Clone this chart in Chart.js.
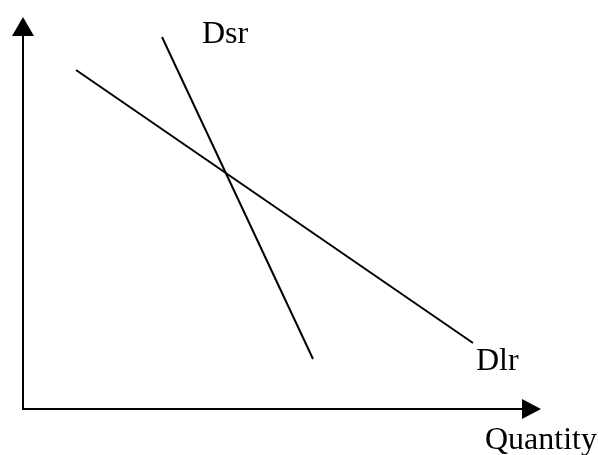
<!DOCTYPE html>
<html>
<head>
<meta charset="utf-8">
<script src="https://cdn.jsdelivr.net/npm/chart.js@4"></script>
<style>
    body { margin: 0; background: #ffffff; }
    #wrap { width: 598px; height: 455px; position: relative; }
</style>
</head>
<body>
<div id="wrap"><canvas id="canvasID"></canvas></div>
<script>
// values (origin at the corner of the axes)
let curveNames = ['Dsr', 'Dlr'];
let dsrQuantity = [139, 290];
let dsrPrice = [372, 50];
let dlrQuantity = [53, 450];
let dlrPrice = [339, 66];
let axisQuantity = [0, 0, 518];
let axisPrice = [392, 0, 0];
let axisTitle = 'Quantity';

function toPoints(xs, ys) {
    let points = [];
    for (let i = 0; i < xs.length; i++) {
        points.push({ x: xs[i], y: ys[i] });
    }
    return points;
}

// draws the two axes with arrow heads and the text labels
let axesPlugin = {
    id: 'axesPlugin',
    afterDatasetsDraw: function (chart) {
        let ctx = chart.ctx;
        let xs = chart.scales.x;
        let ys = chart.scales.y;
        let px = function (v) { return xs.getPixelForValue(v); };
        let py = function (v) { return ys.getPixelForValue(v); };

        let topX = px(axisQuantity[0]), topY = py(axisPrice[0]);
        let oX = px(axisQuantity[1]), oY = py(axisPrice[1]);
        let endX = px(axisQuantity[2]), endY = py(axisPrice[2]);

        ctx.save();
        ctx.strokeStyle = '#000000';
        ctx.fillStyle = '#000000';
        ctx.lineWidth = 2;
        ctx.beginPath();
        ctx.moveTo(topX, topY + 18);
        ctx.lineTo(oX, oY);
        ctx.lineTo(endX - 18, endY);
        ctx.stroke();

        // arrow up
        ctx.beginPath();
        ctx.moveTo(topX, topY);
        ctx.lineTo(topX - 11, topY + 19);
        ctx.lineTo(topX + 11, topY + 19);
        ctx.closePath();
        ctx.fill();

        // arrow right
        ctx.beginPath();
        ctx.moveTo(endX, endY);
        ctx.lineTo(endX - 19, endY - 10);
        ctx.lineTo(endX - 19, endY + 10);
        ctx.closePath();
        ctx.fill();

        ctx.font = '32px "Liberation Serif", "Times New Roman", serif';
        ctx.textBaseline = 'alphabetic';
        ctx.textAlign = 'left';
        ctx.fillText(curveNames[0], px(dsrQuantity[0]) + 40, py(dsrPrice[0]) + 6);
        ctx.fillText(curveNames[1], px(dlrQuantity[1]) + 3, py(dlrPrice[1]) + 27);
        ctx.fillText(axisTitle, endX - 56, endY + 40);
        ctx.restore();
    }
};

let ctx = document.getElementById('canvasID').getContext('2d');
let myChart = new Chart(ctx, {
    type: 'scatter',
    data: {
        datasets: [{
            label: curveNames[0],
            data: toPoints(dsrQuantity, dsrPrice),
            showLine: true,
            borderColor: '#000000',
            borderWidth: 2,
            pointRadius: 0,
            fill: false
        }, {
            label: curveNames[1],
            data: toPoints(dlrQuantity, dlrPrice),
            showLine: true,
            borderColor: '#000000',
            borderWidth: 2,
            pointRadius: 0,
            fill: false
        }]
    },
    options: {
        responsive: true,
        maintainAspectRatio: false,
        animation: false,
        layout: { padding: 0 },
        plugins: {
            legend: { display: false },
            tooltip: { enabled: false }
        },
        scales: {
            x: { type: 'linear', display: false, min: -23, max: 575 },
            y: { type: 'linear', display: false, min: -46, max: 409 }
        }
    },
    plugins: [axesPlugin]
});
</script>
</body>
</html>
